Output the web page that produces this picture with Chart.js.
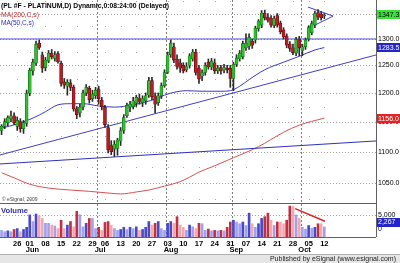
<!DOCTYPE html>
<html><head><meta charset="utf-8">
<script src="https://cdn.jsdelivr.net/npm/chart.js@4.4.1/dist/chart.umd.min.js"></script>
<style>html,body{margin:0;padding:0;background:#fff;overflow:hidden}#wrap{width:400px;height:263px;position:relative}</style>
</head><body><div id="wrap"><canvas id="c" width="400" height="263"></canvas></div>
<script>
// ---- data (MM-DD, 2009) ----
const dates = [
'05-18','05-19','05-20','05-21','05-22','05-26','05-27','05-28','05-29',
'06-01','06-02','06-03','06-04','06-05','06-08','06-09','06-10','06-11','06-12','06-15','06-16','06-17','06-18','06-19','06-22','06-23','06-24','06-25','06-26','06-29','06-30',
'07-01','07-02','07-06','07-07','07-08','07-09','07-10','07-13','07-14','07-15','07-16','07-17','07-20','07-21','07-22','07-23','07-24','07-27','07-28','07-29','07-30','07-31',
'08-03','08-04','08-05','08-06','08-07','08-10','08-11','08-12','08-13','08-14','08-17','08-18','08-19','08-20','08-21','08-24','08-25','08-26','08-27','08-28','08-31',
'09-01','09-02','09-03','09-04','09-07','09-08','09-09','09-10','09-11','09-14','09-15','09-16','09-17','09-18','09-21','09-22','09-23','09-24','09-25','09-28','09-29','09-30',
'10-01','10-02','10-05','10-06','10-07','10-08','10-09','10-12'];
const opens = [1135,1142,1148,1155,1160,1142,1150,1138,1147,1199,1240,1254,1292,1270,1246,1258,1273,1263,1272,1254,1220,1212,1218,1210,1172,1165,1175,1200,1208,1190,1195,1206,1187,1175,1140,1110,1104,1105,1117,1135,1160,1175,1176,1182,1190,1183,1186,1196,1222,1195,1183,1195,1213,1237,1270,1285,1262,1255,1250,1242,1250,1262,1275,1245,1230,1237,1256,1247,1255,1240,1246,1241,1245,1245,1226,1252,1262,1266,1283,1286,1296,1298,1320,1327,1351,1343,1341,1326,1346,1331,1318,1306,1290,1283,1273,1300,1278,1285,1300,1312,1327,1352,1349,1345];
const highs = [1145,1155,1160,1168,1165,1158,1155,1152,1205,1245,1262,1296,1298,1275,1265,1278,1280,1276,1276,1258,1226,1224,1224,1214,1176,1180,1205,1215,1212,1205,1210,1212,1192,1178,1145,1118,1118,1122,1140,1162,1182,1185,1192,1196,1198,1195,1200,1228,1228,1200,1200,1218,1242,1275,1298,1292,1270,1262,1255,1255,1272,1280,1280,1250,1242,1255,1262,1263,1262,1250,1250,1252,1250,1250,1256,1270,1278,1296,1310,1310,1300,1325,1338,1356,1357,1350,1346,1345,1350,1335,1322,1310,1295,1290,1303,1305,1290,1302,1326,1335,1355,1358,1354,1350];
const lows = [1128,1138,1143,1150,1145,1135,1132,1130,1142,1195,1232,1250,1280,1237,1240,1255,1262,1258,1254,1212,1208,1196,1204,1168,1155,1158,1170,1195,1182,1185,1190,1180,1170,1140,1098,1095,1092,1094,1110,1130,1157,1167,1172,1176,1180,1176,1180,1192,1188,1165,1178,1190,1210,1235,1265,1255,1243,1237,1236,1238,1245,1258,1232,1217,1222,1232,1243,1242,1235,1235,1234,1236,1236,1210,1204,1248,1258,1262,1278,1280,1282,1292,1315,1322,1337,1333,1323,1322,1323,1310,1300,1283,1276,1270,1268,1268,1268,1280,1296,1308,1322,1338,1337,1340];
const closes = [1142,1150,1157,1160,1148,1152,1138,1148,1199,1241,1256,1290,1284,1245,1260,1273,1266,1270,1257,1217,1214,1219,1210,1172,1162,1175,1200,1210,1188,1198,1205,1190,1176,1145,1103,1100,1112,1119,1135,1157,1178,1180,1186,1192,1185,1190,1195,1222,1193,1180,1195,1213,1237,1270,1292,1260,1248,1245,1240,1248,1268,1275,1237,1225,1237,1250,1247,1258,1240,1245,1240,1246,1242,1226,1252,1264,1273,1291,1292,1303,1288,1321,1335,1351,1341,1337,1327,1340,1327,1314,1304,1288,1282,1274,1299,1283,1285,1298,1322,1330,1350,1343,1342,1347.3];
const volumes = [1500,1200,1400,1200,1700,1900,1200,1700,2200,5000,3500,5200,4800,4200,3100,3100,2700,2500,1900,3800,1900,2700,3500,2300,5800,5000,2300,3100,4200,4200,1900,2200,1500,3300,3500,2700,1900,1500,1700,2200,1700,2200,1900,2300,1500,1700,2200,3500,2700,3100,3500,1900,1500,3100,3500,3100,4600,2700,2200,1500,2700,2300,1900,3100,3000,1500,1800,1400,1500,1400,1500,1400,2200,3400,3800,3400,3000,3400,2600,5400,3000,2200,3000,4200,4600,5400,3800,2600,3400,3400,3000,3800,7000,7000,5000,4200,2200,1800,2600,2000,2200,3000,3000,2267];
// moving averages read at key days (day index, value)
const ma50Days = [0,5,10,14,18,22,26,31,36,42,46,49,52,55,59,64,70,73,76,79,84,90,95,100,103];
const ma50Vals = [1139,1146,1156,1167,1179,1181,1181,1177,1175,1179,1184,1189,1196,1201,1204,1203,1203,1204,1212,1224,1242,1256,1267,1279,1283.5];
const ma200Days = [0,4,9,15,22,28,35,38,43,47,52,57,60,63,68,74,82,90,95,103];
const ma200Vals = [1066,1058,1048,1042,1039,1037,1034,1033,1036,1039,1045,1052,1059,1067,1077,1090,1108,1132,1144,1156];
// drawn trend lines (day index, value)
const trendDays = [-0.5, 119.5];
const level1300 = [1300, 1300];
const risingTrend = [1094.5, 1269.5];
const flatTrend = [1080, 1117.5];
const wedgeUpperDays = [97.8, 105.8], wedgeUpper = [1363, 1345];
const wedgeLowerDays = [100.0, 105.8], wedgeLower = [1327, 1345];
const volTrendDays = [93.7, 103.2], volTrend = [6430, 3571];
const priceTicks = [1050,1100,1150,1200,1250,1300,1350];
const dotLevels = [1025,1075,1125,1175,1225,1275,1325,1375];
const volumeTicks = [0,5000];
const monthNames = ['Jun','Jul','Aug','Sep','Oct'];
const lastPrice = 1347.3, lastMA50 = 1283.5, lastMA200 = 1156.0, lastVolume = 2267;
const title = '(PL #F - PLATINUM,D) Dynamic,0:08:24:00 (Delayed)';

// ---- derived ----
const FONT = 'Liberation Sans, Arial, sans-serif';
const idx = dates.map((_, i) => i);
const isUp = idx.map(i => closes[i] >= opens[i]);
const dow = d => new Date(2009, +d.slice(0,2)-1, +d.slice(3)).getDay();
const weekStarts = idx.filter(i => i > 0 && dow(dates[i]) < dow(dates[i-1]));
const monthFirst = idx.filter(i => i > 0 && dates[i].slice(0,2) !== dates[i-1].slice(0,2));
const pts = (xs, ys) => xs.map((x, k) => ({x, y: ys[k]}));
const volColors = idx.map(i => {
  const more = i > 0 && volumes[i] > volumes[i-1];
  return isUp[i] ? (more ? '#4848c8' : '#a0a0ec') : (more ? '#c03040' : '#f2a8b0');
});

const decor = {
  id: 'decor',
  beforeDatasetsDraw(chart) {
    const {ctx, chartArea: a, scales: {x, y, yv}} = chart;
    ctx.save();
    ctx.lineWidth = 1;
    ctx.strokeStyle = '#a0a0a0';
    ctx.setLineDash([1, 2]);
    priceTicks.forEach(v => {
      const py = Math.round(y.getPixelForValue(v)) + 0.5;
      ctx.beginPath(); ctx.moveTo(a.left, py); ctx.lineTo(a.right, py); ctx.stroke();
    });
    const vy = Math.round(yv.getPixelForValue(5000)) + 0.5;
    ctx.beginPath(); ctx.moveTo(a.left, vy); ctx.lineTo(a.right, vy); ctx.stroke();
    ctx.fillStyle = '#a8a8a8';
    weekStarts.forEach(i => {
      const px = Math.round(x.getPixelForValue(i));
      dotLevels.forEach(v => {
        const py = Math.round(y.getPixelForValue(v));
        if (py > y.top && py < y.bottom) ctx.fillRect(px, py, 1, 1);
      });
    });
    ctx.strokeStyle = '#7a7a7a';
    ctx.setLineDash([2, 2]);
    monthFirst.slice(1).forEach(i => {
      const px = Math.round(x.getPixelForValue(i - 0.5)) + 0.5;
      ctx.beginPath(); ctx.moveTo(px, a.top); ctx.lineTo(px, a.bottom); ctx.stroke();
    });
    ctx.restore();
  },
  afterDraw(chart) {
    const {ctx, chartArea: a, scales: {x, y, yv}} = chart;
    ctx.save();
    ctx.setLineDash([]);
    ctx.strokeStyle = '#606060';
    ctx.lineWidth = 1;
    ctx.beginPath();
    ctx.moveTo(a.right + 0.5, 0); ctx.lineTo(a.right + 0.5, a.bottom);
    ctx.moveTo(0, Math.round(y.bottom) + 0.5); ctx.lineTo(a.right, Math.round(y.bottom) + 0.5);
    ctx.moveTo(0, a.bottom + 0.5); ctx.lineTo(a.right, a.bottom + 0.5);
    ctx.stroke();
    ctx.textBaseline = 'alphabetic'; ctx.textAlign = 'left';
    ctx.fillStyle = '#000';
    ctx.font = 'bold 8px ' + FONT;
    ctx.fillText(title, 1, 8, 168);
    ctx.font = '7.5px ' + FONT;
    ctx.fillStyle = '#d02828'; ctx.fillText('MA(200,C,s)', 1, 17, 38);
    ctx.fillStyle = '#2a2ac0'; ctx.fillText('MA(50,C,s)', 1, 25, 33);
    ctx.fillStyle = '#444'; ctx.font = '5px ' + FONT;
    ctx.fillText('\u00a9 eSignal, 2009', 2, 201);
    ctx.fillStyle = '#3030b8'; ctx.font = 'bold 8px ' + FONT;
    ctx.fillText('Volume', 1, 213, 27);
    const box = (val, py, bg, fg, txt) => {
      ctx.fillStyle = bg;
      ctx.fillRect(a.right + 1, Math.round(py - 4.5), 400 - a.right - 1, 9);
      ctx.fillStyle = fg; ctx.font = '7px ' + FONT;
      ctx.textBaseline = 'middle';
      ctx.fillText(txt, a.right + 2, py + 0.5, 22);
    };
    ctx.textBaseline = 'middle'; ctx.fillStyle = '#000'; ctx.font = '7px ' + FONT;
    ctx.fillText('5,000', a.right + 2, yv.getPixelForValue(5000));
    ctx.fillText('0', a.right + 2, 229);
    box(lastMA200, y.getPixelForValue(lastMA200), '#e02424', '#fff', lastMA200.toFixed(1));
    box(lastMA50, y.getPixelForValue(lastMA50), '#2424c8', '#fff', lastMA50.toFixed(1));
    box(lastPrice, y.getPixelForValue(lastPrice), '#3ae23a', '#000', lastPrice.toFixed(1));
    box(lastVolume, 222, '#2424c8', '#fff', lastVolume.toLocaleString('en-US'));
    ctx.fillStyle = '#000'; ctx.font = 'bold 7.5px ' + FONT;
    ctx.textAlign = 'left'; ctx.textBaseline = 'middle';
    monthFirst.forEach((i, k) => {
      ctx.fillText(monthNames[k], x.getPixelForValue(i) - 4, 250);
    });
    ctx.fillStyle = '#e6e6e6';
    ctx.fillRect(0, 255, 400, 8);
    ctx.strokeStyle = '#b0b0b0';
    ctx.beginPath(); ctx.moveTo(0, 254.5); ctx.lineTo(400, 254.5); ctx.stroke();
    ctx.fillStyle = '#222'; ctx.font = '7px ' + FONT;
    ctx.textAlign = 'right'; ctx.textBaseline = 'middle';
    ctx.fillText('Published by eSignal (www.esignal.com)', 396, 259.5);
    ctx.restore();
  }
};

const lineDs = (data, color, yAxisID, width) => ({
  type: 'line', data, borderColor: color, borderWidth: width || 1, pointRadius: 0,
  yAxisID: yAxisID || 'y', fill: false, order: 2
});

new Chart(document.getElementById('c'), {
  type: 'bar',
  data: {
    datasets: [
      {type: 'bar', data: idx.map(i => ({x: i, y: volumes[i]})), yAxisID: 'yv',
       backgroundColor: volColors, barThickness: 2, grouped: false, order: 5},
      Object.assign(lineDs(pts(ma200Days, ma200Vals), '#d85050'), {cubicInterpolationMode: 'monotone', order: 4}),
      Object.assign(lineDs(pts(ma50Days, ma50Vals), '#3838c4'), {cubicInterpolationMode: 'monotone', order: 4}),
      lineDs(pts(trendDays, level1300), '#5050d8'),
      lineDs(pts(trendDays, risingTrend), '#4040c8'),
      lineDs(pts(trendDays, flatTrend), '#3030b8'),
      lineDs(pts(wedgeUpperDays, wedgeUpper), '#4040c8'),
      lineDs(pts(wedgeLowerDays, wedgeLower), '#4040c8'),
      lineDs(pts(volTrendDays, volTrend), '#dd2222', 'yv', 1.5),
      {type: 'bar', data: idx.map(i => ({x: i, y: [lows[i], highs[i]]})), yAxisID: 'y',
       backgroundColor: '#2a2a2a', barThickness: 1, grouped: false, order: 1},
      {type: 'bar', data: idx.map(i => ({x: i, y: [opens[i], closes[i]]})), yAxisID: 'y',
       backgroundColor: idx.map(i => isUp[i] ? '#2cc02c' : '#b81c24'),
       borderColor: idx.map(i => isUp[i] ? '#1a5e1a' : '#5a0c10'), borderWidth: 0.6,
       borderSkipped: false,
       barThickness: 3, grouped: false, order: 0}
    ]
  },
  options: {
    animation: false, responsive: false, maintainAspectRatio: false,
    layout: {padding: 0},
    plugins: {legend: {display: false}, tooltip: {enabled: false}},
    scales: {
      x: {
        type: 'linear', min: -0.5, max: 119.5, offset: false,
        grid: {display: false, drawTicks: false}, border: {display: false},
        afterBuildTicks: s => { s.ticks = weekStarts.map(v => ({value: v})); },
        afterFit: s => { s.height = 26; s.paddingLeft = 0; s.paddingRight = 0; },
        ticks: {autoSkip: false, maxRotation: 0, padding: 2, color: '#000',
          font: {size: 7.5, weight: 'bold', family: FONT},
          callback: v => dates[Math.round(v)].slice(3)}
      },
      y: {
        type: 'logarithmic', position: 'right', stack: 'pane', stackWeight: 203,
        min: 1019.2, max: 1377.4,
        grid: {display: false, drawTicks: false}, border: {display: false},
        afterBuildTicks: s => { s.ticks = priceTicks.map(v => ({value: v})); },
        afterFit: s => { s.width = 24; s.paddingTop = 0; s.paddingBottom = 0; },
        ticks: {padding: 2, color: '#000', font: {size: 7, family: FONT},
          callback: v => v === 1350 ? '' : Number(v).toFixed(1)}
      },
      yv: {
        type: 'linear', position: 'right', stack: 'pane', stackWeight: 34,
        min: 0, max: 7700,
        grid: {display: false, drawTicks: false}, border: {display: false},
        afterBuildTicks: s => { s.ticks = volumeTicks.map(v => ({value: v})); },
        afterFit: s => { s.width = 24; s.paddingTop = 0; s.paddingBottom = 0; },
        ticks: {display: false}
      }
    }
  },
  plugins: [decor]
});
</script>
</body></html>
